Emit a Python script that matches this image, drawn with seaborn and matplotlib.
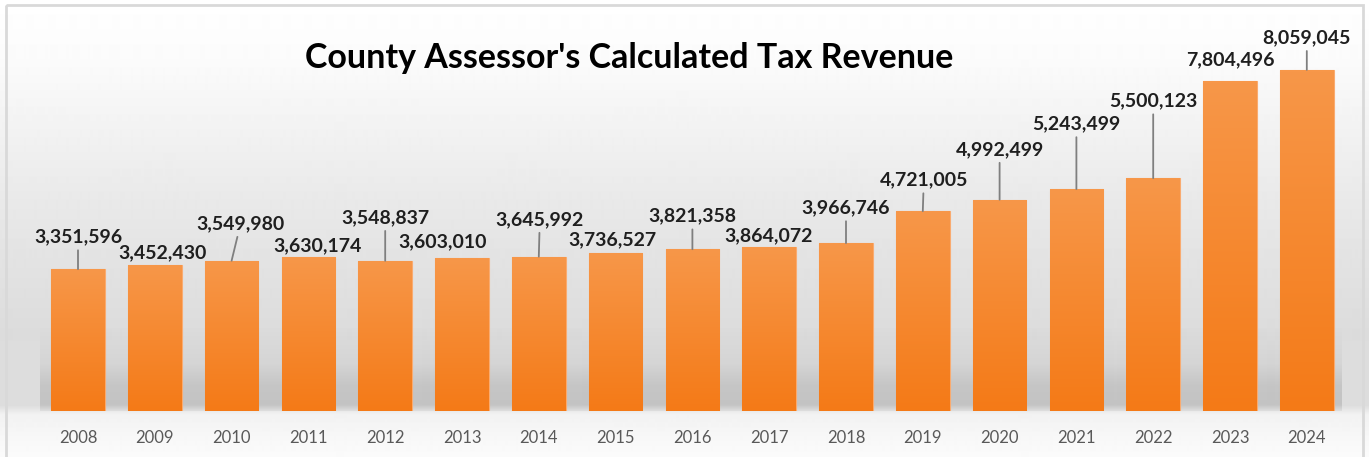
import numpy as np
import matplotlib
matplotlib.use("Agg")
import matplotlib.pyplot as plt
import seaborn as sns
import pandas as pd
from matplotlib.colors import LinearSegmentedColormap
from matplotlib.patches import Rectangle

# ---- data ----
years = [str(y) for y in range(2008, 2025)]
revenue = [3351596, 3452430, 3549980, 3630174, 3548837, 3603010, 3645992,
           3736527, 3821358, 3864072, 3966746, 4721005, 4992499, 5243499,
           5500123, 7804496, 8059045]
title = "County Assessor's Calculated Tax Revenue"

# ---- label placement (pixel offsets from the top centre of each bar) ----
label_dx = [0, 8, 9, 9, 0, -19, 1, -3, 0, -1, 0, 1, 0, 0, 0, 0, 0]
label_dy = [32, 12, 37, 12, 43, 17, 37, 13, 33, 12, 35, 31, 50, 65, 77, 21, 32]

sns.set_theme(style="white")
plt.rcParams["font.family"] = ["Lato", "DejaVu Sans"]

W, H = 1369, 457
fig = plt.figure(figsize=(W / 100, H / 100), dpi=100)

# background gradient + border
bg = fig.add_axes([0, 0, 1, 1], zorder=-10)
ys = np.array([0, 60, 200, 330, 405, 414, 440, 457])
vs = np.array([255, 251, 233, 220, 221, 242, 248, 251]) / 255
col = np.interp(np.arange(H), ys, vs)
bg.imshow(np.repeat(col[:, None], 2, axis=1), cmap="gray", vmin=0, vmax=1,
          aspect="auto", extent=[0, W, H, 0], interpolation="bilinear")
bg.add_patch(Rectangle((6, 5), W - 12, H + 10, fill=False, ec="#d9d9d9", lw=2))
bg.set_xlim(0, W)
bg.set_ylim(H, 0)
bg.axis("off")

# main axes
left, right, top, base = 39.6, 1345.2, 30, 411
ax = fig.add_axes([left / W, (H - base) / H, (right - left) / W, (base - top) / H])
ax.set_facecolor("none")

df = pd.DataFrame({"year": years, "revenue": revenue})
sns.barplot(data=df, x="year", y="revenue", ax=ax, width=0.7, color="#f58a32",
            edgecolor="#f9ab70", linewidth=0.8, saturation=1, zorder=2)

ymax = 9.0e6
# floor shadow band
band_top = 2.0e6
yb = np.linspace(0, 1, 200)
alpha = np.interp(yb, [0, 0.08, 0.3, 0.55, 1.0], [0.10, 0.24, 0.22, 0.08, 0.0])
rgba = np.zeros((200, 2, 4))
rgba[..., :3] = 0.45
rgba[..., 3] = alpha[::-1, None]
ax.imshow(rgba, extent=[-0.5, 16.45, 0, band_top], aspect="auto", zorder=1,
          interpolation="bilinear")

# bar gradients
cmap = LinearSegmentedColormap.from_list("org", ["#f47a17", "#f79749"])
grad = np.linspace(1, 0, 100)[:, None]
for p in ax.patches:
    x0, y0, w, h = p.get_x(), p.get_y(), p.get_width(), p.get_height()
    im = ax.imshow(grad, extent=[x0, x0 + w, y0, y0 + h], cmap=cmap, vmin=0,
                   vmax=1, aspect="auto", zorder=2.1, interpolation="bilinear")
    im.set_clip_path(p)

# data labels
for i, v in enumerate(revenue):
    props = None
    if label_dy[i] > 25:
        props = dict(arrowstyle="-", color="#7f7f7f", lw=1.3, shrinkA=1, shrinkB=0)
    ax.annotate(f"{v:,}", xy=(i, v), xytext=(label_dx[i], label_dy[i]),
                textcoords="offset pixels", ha="center", va="center",
                fontsize=14, fontweight="bold", color="#1f1f1f",
                arrowprops=props, zorder=5)

ax.set_xlim(-0.5, 16.5)
ax.set_ylim(0, ymax)
ax.set_xlabel("")
ax.set_ylabel("")
ax.set_yticks([])
ax.tick_params(axis="x", length=0, pad=14, labelsize=12, labelcolor="#595959")
for s in ax.spines.values():
    s.set_visible(False)

fig.text(629 / W, 1 - 58 / H, title, ha="center", va="center", fontsize=24.5,
         fontweight="bold", color="black")

fig.savefig("out.png", dpi=100)
